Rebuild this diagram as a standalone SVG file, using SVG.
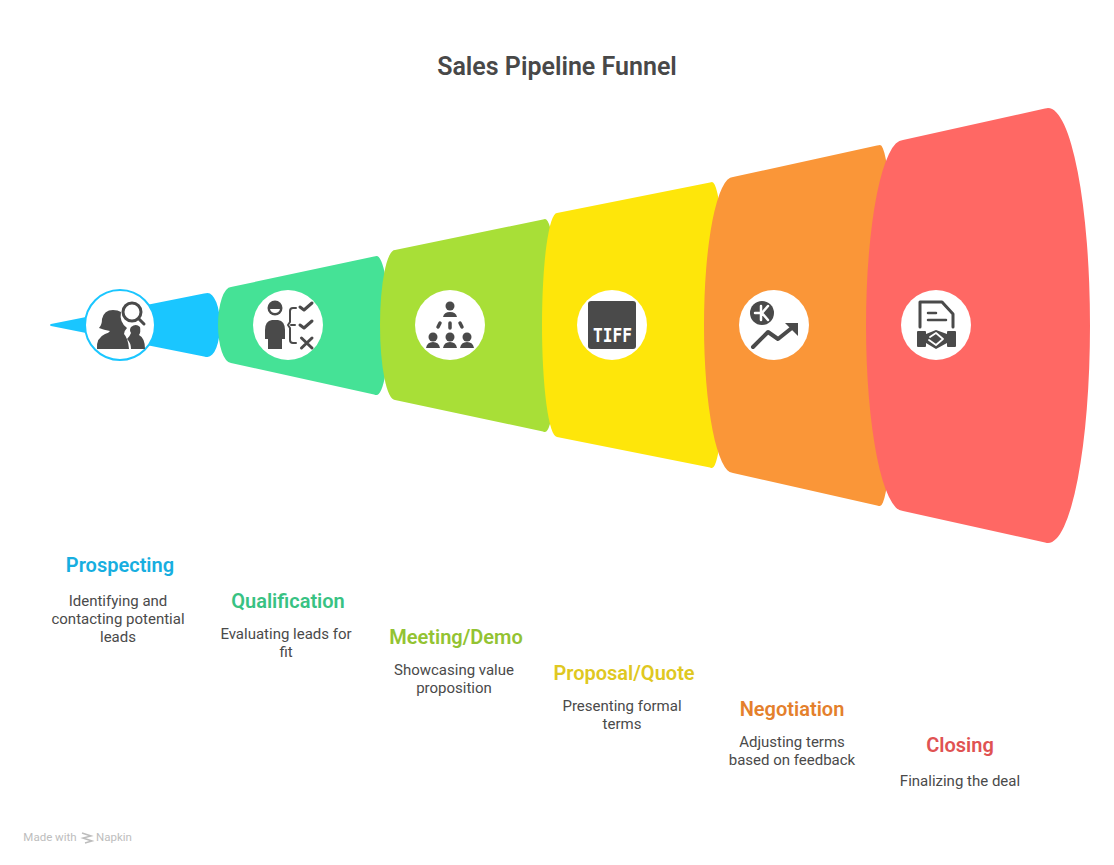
<svg xmlns="http://www.w3.org/2000/svg" width="1114" height="865" viewBox="0 0 1114 865">
<style>
text{font-family:Roboto,"Liberation Sans",sans-serif;text-anchor:middle}
.title{font-size:25px;font-weight:600;fill:#484848}
.h{font-size:20px;font-weight:600}
.d{font-size:15px;fill:#4a4a4a}
.c{fill:#fff}
.i{fill:#4a4a4a}
.s{fill:none;stroke:#4a4a4a;stroke-linecap:round;stroke-linejoin:round}
.w{fill:none;stroke:#fff;stroke-linecap:round;stroke-linejoin:round}
</style>
<rect width="1114" height="865" fill="#fff"/>
<text class="title" x="557" y="75">Sales Pipeline Funnel</text>
<g id="stage-prospecting">
<path fill="#1ac6ff" d="M51 324L204 293.500Q206 293 207.500 293A12.500 32 0 0 1 207.500 357Q206 357 204 356.500L51 326Q49 325 51 324Z"/>
<circle cx="120" cy="325" r="35" fill="#fff" stroke="#1ac6ff" stroke-width="2"/>
<path class="i" d="M97 349Q96 338 105 334Q109 333 110 331Q104 330 99 328Q102 325 102 319Q104 310 113 310Q118 310 121 312Q119 322 127 328Q124 331 124 334Q128 338 129 349Z"/>
<path class="i" d="M131 349Q131 343 127 339Q130 336 131 333Q129 330 131 327Q136 323 140 327Q141 332 139 335Q145 338 145 349Z"/>
<circle class="s" cx="132" cy="312" r="9" stroke-width="3"/>
<path class="s" stroke-width="3" d="M139 319L144 324"/>
<text class="h" x="120" y="572" fill="#17aee0">Prospecting</text>
<text class="d" x="118" y="606">Identifying and</text>
<text class="d" x="118" y="624">contacting potential</text>
<text class="d" x="118" y="642">leads</text>
</g>
<g id="stage-qualification">
<path fill="#45e296" d="M231 287L374 256.500Q375.500 256 376.500 256A12.500 69.500 0 0 1 376.500 395Q375.500 395 374 394.500L231 363A13 38 0 0 1 231 287Z"/>
<circle class="c" cx="288" cy="325" r="35"/>
<circle class="i" cx="275" cy="308" r="7.500"/>
<path fill="#fff" d="M270 309H280Q279 313 275 313Q271 313 270 309Z"/>
<path class="i" d="M265 330Q265 321 272 320H278Q285 321 285 330V339H282V349H268V339H265Z"/>
<path class="s" stroke-width="2" d="M296 308H293Q290 308 290 311V322L288 325L290 328V340Q290 343 293 343H296M291 325H295"/>
<path class="s" stroke-width="3" d="M300 307L304 310L312 303M300 325L304 328L312 321M301.500 338L312 348M312 338L301.500 348"/>
<text class="h" x="288" y="608" fill="#38c283">Qualification</text>
<text class="d" x="286" y="639">Evaluating leads for</text>
<text class="d" x="286" y="657">fit</text>
</g>
<g id="stage-meeting">
<path fill="#a8df37" d="M395 250L543 219.500Q544 219 545 219A13 106.500 0 0 1 545 432Q544 432 543 431.500L395 400A15 75 0 0 1 395 250Z"/>
<circle class="c" cx="450" cy="325" r="35"/>
<circle class="i" cx="450" cy="306" r="4.500"/>
<path class="i" d="M443 317Q444 312 450 312Q456 312 457 317Z"/>
<path class="s" stroke-width="3.500" d="M440 323L438 327M450 323V328M460 323L462 327"/>
<circle class="i" cx="433" cy="337" r="4.500"/><circle class="i" cx="450" cy="337" r="4.500"/><circle class="i" cx="467" cy="337" r="4.500"/>
<path class="i" d="M426 348Q427 342 433 342Q439 342 440 348ZM443 348Q444 342 450 342Q456 342 457 348ZM460 348Q461 342 467 342Q473 342 474 348Z"/>
<text class="h" x="456" y="644" fill="#93c332">Meeting/Demo</text>
<text class="d" x="454" y="675">Showcasing value</text>
<text class="d" x="454" y="693">proposition</text>
</g>
<g id="stage-proposal">
<path fill="#fee60a" d="M557 213L710 182.500Q711 182 712 182A14 143 0 0 1 712 468Q711 468 710 467.500L557 437A15 112 0 0 1 557 213Z"/>
<circle class="c" cx="612" cy="325" r="35"/>
<rect class="i" x="588" y="301" width="48" height="48" rx="3"/>
<text transform="translate(612.500 342) scale(.85 1)" font-size="19" font-weight="700" style="font-family:'DejaVu Sans Mono',monospace;fill:#fff">TIFF</text>
<text class="h" x="624" y="680" fill="#dfc821">Proposal/Quote</text>
<text class="d" x="622" y="711">Presenting formal</text>
<text class="d" x="622" y="729">terms</text>
</g>
<g id="stage-negotiation">
<path fill="#fa9638" d="M733 177L877 145.500Q879 145 880 145A15 180.500 0 0 1 880 506Q879 506 877 505.500L733 473A29 148 0 0 1 733 177Z"/>
<circle class="c" cx="774" cy="325" r="35"/>
<circle class="i" cx="762" cy="313" r="12"/>
<path class="w" stroke-width="2.500" d="M761 306V320M768 306L762 313L768 320M755 313H761"/>
<path class="s" stroke-width="4" d="M753 347L768 332L778 339L793 327"/>
<path class="i" d="M785 323H798V336Z"/>
<text class="h" x="792" y="716" fill="#e4802c">Negotiation</text>
<text class="d" x="792" y="747">Adjusting terms</text>
<text class="d" x="792" y="765">based on feedback</text>
</g>
<g id="stage-closing">
<path fill="#ff6864" d="M903 140L1045 108.500Q1047 108 1048 108A42 217.500 0 0 1 1048 543Q1047 543 1045 542.500L903 511A37 185.500 0 0 1 903 140Z"/>
<circle class="c" cx="936" cy="325" r="35"/>
<path class="s" stroke-width="3" d="M920 327V302H942L953 314V327"/>
<path class="s" stroke-width="2.500" d="M928 313H936M928 320H946"/>
<rect class="i" x="917" y="331" width="9" height="16" rx="1"/>
<rect class="i" x="947" y="331" width="9" height="16" rx="1"/>
<path class="i" d="M926 334L936 330L947 334V343L936 349L926 343Z"/>
<path class="w" stroke-width="1.800" d="M930 337L936 333L943 339L936 345L929 340"/>
<text class="h" x="960" y="752" fill="#e05252">Closing</text>
<text class="d" x="960" y="786">Finalizing the deal</text>
</g>
<g id="connectors"></g>
<g id="credit">
<text x="50" y="841" font-size="11.500" fill="#bdbdbd">Made with</text>
<path d="M82 833L91 836L83 838L92 841L85 843" fill="none" stroke="#bdbdbd" stroke-width="1.500"/>
<text x="114" y="841" font-size="11.500" fill="#bdbdbd">Napkin</text>
</g>
</svg>
